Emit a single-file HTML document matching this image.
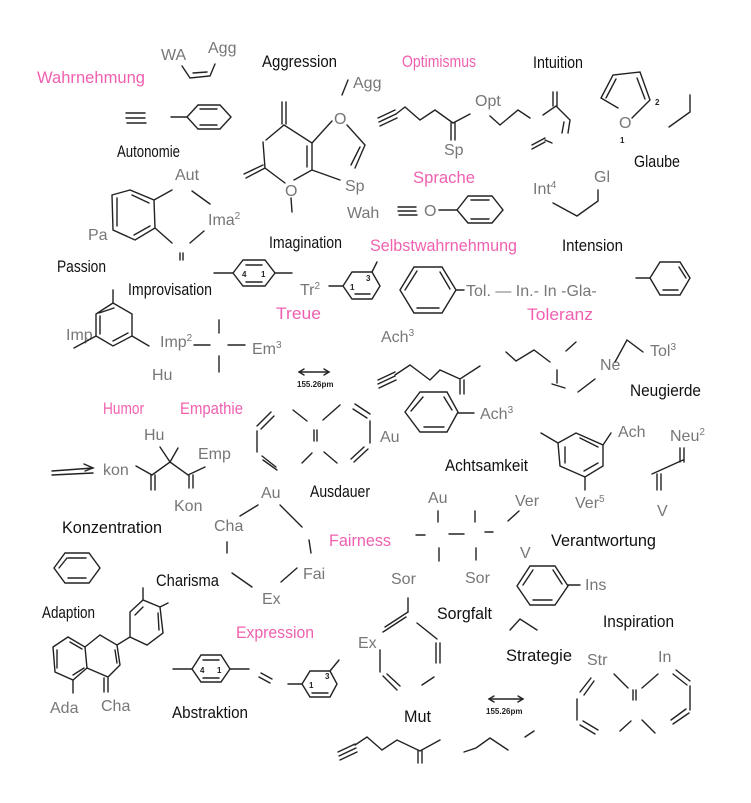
<!DOCTYPE html>
<html><head><meta charset="utf-8"><style>
html,body{margin:0;padding:0;background:#fff;}
svg{display:block}
.b{font-family:"Liberation Sans Narrow","Liberation Sans",sans-serif;font-size:17px;fill:#111}
.p{font-family:"Liberation Sans Narrow","Liberation Sans",sans-serif;font-size:17px;fill:#f060b0}
.g{font-family:"Liberation Sans Narrow","Liberation Sans",sans-serif;font-size:16px;fill:#777}
.m{font-family:"Liberation Sans",sans-serif;font-size:8px;font-weight:bold;fill:#222}
line,polyline,polygon{stroke:#222;stroke-width:1.4;fill:none;stroke-linecap:round}
</style></head><body>
<svg width="751" height="803" viewBox="0 0 751 803" xmlns="http://www.w3.org/2000/svg">
<!-- black labels -->
<text class="b" x="262" y="67" textLength="75" lengthAdjust="spacingAndGlyphs">Aggression</text>
<text class="b" x="533" y="68" textLength="50" lengthAdjust="spacingAndGlyphs">Intuition</text>
<text class="b" x="117" y="157" textLength="63" lengthAdjust="spacingAndGlyphs">Autonomie</text>
<text class="b" x="634" y="167" textLength="46" lengthAdjust="spacingAndGlyphs">Glaube</text>
<text class="b" x="269" y="248" textLength="73" lengthAdjust="spacingAndGlyphs">Imagination</text>
<text class="b" x="562" y="251" textLength="61" lengthAdjust="spacingAndGlyphs">Intension</text>
<text class="b" x="57" y="272" textLength="49" lengthAdjust="spacingAndGlyphs">Passion</text>
<text class="b" x="128" y="295" textLength="84" lengthAdjust="spacingAndGlyphs">Improvisation</text>
<text class="b" x="630" y="396" textLength="71" lengthAdjust="spacingAndGlyphs">Neugierde</text>
<text class="b" x="445" y="471" textLength="83" lengthAdjust="spacingAndGlyphs">Achtsamkeit</text>
<text class="b" x="310" y="497" textLength="60" lengthAdjust="spacingAndGlyphs">Ausdauer</text>
<text class="b" x="62" y="533" textLength="100" lengthAdjust="spacingAndGlyphs">Konzentration</text>
<text class="b" x="551" y="546" textLength="105" lengthAdjust="spacingAndGlyphs">Verantwortung</text>
<text class="b" x="156" y="586" textLength="63" lengthAdjust="spacingAndGlyphs">Charisma</text>
<text class="b" x="42" y="618" textLength="53" lengthAdjust="spacingAndGlyphs">Adaption</text>
<text class="b" x="437" y="619" textLength="55" lengthAdjust="spacingAndGlyphs">Sorgfalt</text>
<text class="b" x="603" y="627" textLength="71" lengthAdjust="spacingAndGlyphs">Inspiration</text>
<text class="b" x="506" y="661" textLength="66" lengthAdjust="spacingAndGlyphs">Strategie</text>
<text class="b" x="172" y="718" textLength="76" lengthAdjust="spacingAndGlyphs">Abstraktion</text>
<text class="b" x="404" y="722" textLength="27" lengthAdjust="spacingAndGlyphs">Mut</text>
<!-- pink labels -->
<text class="p" x="37" y="83" textLength="108" lengthAdjust="spacingAndGlyphs">Wahrnehmung</text>
<text class="p" x="402" y="67" textLength="74" lengthAdjust="spacingAndGlyphs">Optimismus</text>
<text class="p" x="413" y="183" textLength="62" lengthAdjust="spacingAndGlyphs">Sprache</text>
<text class="p" x="370" y="251" textLength="147" lengthAdjust="spacingAndGlyphs">Selbstwahrnehmung</text>
<text class="p" x="276" y="319" textLength="45" lengthAdjust="spacingAndGlyphs">Treue</text>
<text class="p" x="527" y="320" textLength="66" lengthAdjust="spacingAndGlyphs">Toleranz</text>
<text class="p" x="103" y="414" textLength="41" lengthAdjust="spacingAndGlyphs">Humor</text>
<text class="p" x="180" y="414" textLength="63" lengthAdjust="spacingAndGlyphs">Empathie</text>
<text class="p" x="329" y="546" textLength="62" lengthAdjust="spacingAndGlyphs">Fairness</text>
<text class="p" x="236" y="638" textLength="78" lengthAdjust="spacingAndGlyphs">Expression</text>
<!-- gray labels -->
<text class="g" x="161" y="60">WA</text><text class="g" x="208" y="53">Agg</text>
<text class="g" x="353" y="88">Agg</text><text class="g" x="345" y="191">Sp</text><text class="g" x="347" y="218">Wah</text>
<text class="g" x="475" y="106">Opt</text><text class="g" x="444" y="155">Sp</text>
<text class="g" x="594" y="182">Gl</text><text class="g" x="533" y="194">Int<tspan font-size="10" dy="-6">4</tspan></text>
<text class="g" x="175" y="180">Aut</text><text class="g" x="208" y="225">Ima<tspan font-size="10" dy="-6">2</tspan></text>
<text class="g" x="88" y="240">Pa</text>
<text class="g" x="300" y="295">Tr<tspan font-size="10" dy="-6">2</tspan></text>
<text class="g" x="466" y="296">Tol. — In.- In -Gla-</text>
<text class="g" x="66" y="340">Imp</text><text class="g" x="160" y="347">Imp<tspan font-size="10" dy="-6">2</tspan></text>
<text class="g" x="252" y="354">Em<tspan font-size="10" dy="-6">3</tspan></text><text class="g" x="152" y="380">Hu</text>
<text class="g" x="381" y="342">Ach<tspan font-size="10" dy="-6">3</tspan></text>
<text class="g" x="600" y="370">Ne</text><text class="g" x="650" y="356">Tol<tspan font-size="10" dy="-6">3</tspan></text>
<text class="g" x="144" y="440">Hu</text><text class="g" x="198" y="459">Emp</text>
<text class="g" x="103" y="475">kon</text><text class="g" x="174" y="511">Kon</text>
<text class="g" x="380" y="442">Au</text><text class="g" x="480" y="419">Ach<tspan font-size="10" dy="-6">3</tspan></text>
<text class="g" x="618" y="437">Ach</text><text class="g" x="670" y="441">Neu<tspan font-size="10" dy="-6">2</tspan></text>
<text class="g" x="575" y="508">Ver<tspan font-size="10" dy="-6">5</tspan></text><text class="g" x="657" y="516">V</text>
<text class="g" x="261" y="498">Au</text><text class="g" x="214" y="531">Cha</text>
<text class="g" x="303" y="579">Fai</text><text class="g" x="262" y="604">Ex</text>
<text class="g" x="428" y="503">Au</text><text class="g" x="515" y="506">Ver</text>
<text class="g" x="465" y="583">Sor</text><text class="g" x="520" y="558">V</text>
<text class="g" x="585" y="590">Ins</text><text class="g" x="391" y="584">Sor</text>
<text class="g" x="358" y="648">Ex</text>
<text class="g" x="50" y="713">Ada</text><text class="g" x="101" y="711">Cha</text>
<text class="g" x="587" y="665">Str</text><text class="g" x="658" y="662">In</text>
<!-- measurements -->
<line x1="299" y1="372" x2="329" y2="372"/><polyline points="304,369 299,372 304,375"/><polyline points="324,369 329,372 324,375"/>
<text class="m" x="297" y="387">155.26pm</text>
<line x1="489" y1="699" x2="523" y2="699"/><polyline points="494,696 489,699 494,702"/><polyline points="518,696 523,699 518,702"/>
<text class="m" x="486" y="714">155.26pm</text>
<!-- WA Agg -->
<polyline points="182,66 190,78 210,76 215,64"/><line x1="193" y1="73" x2="207" y2="72"/>
<!-- Autonomie -->
<line x1="126" y1="113" x2="145" y2="113"/><line x1="126" y1="118" x2="145" y2="118"/><line x1="127" y1="123" x2="146" y2="123"/>
<line x1="171" y1="117" x2="187" y2="117"/>
<polygon points="187,117 198,105 220,105 231,117 220,129 198,129"/><line x1="200" y1="109" x2="217" y2="109"/><line x1="200" y1="125" x2="217" y2="125"/>
<!-- Aggression ring -->
<line x1="282" y1="102" x2="282" y2="124"/><line x1="286" y1="102" x2="286" y2="124"/>
<polyline points="266,140 284,125 312,143 312,170 294,180"/><line x1="307" y1="146" x2="307" y2="167"/>
<polyline points="263,142 265,168 285,183"/><line x1="265" y1="168" x2="246" y2="178"/><line x1="263" y1="165" x2="244" y2="174"/>
<text class="g" x="285" y="196">O</text><line x1="291" y1="198" x2="292" y2="212"/>
<line x1="312" y1="143" x2="332" y2="121"/><text class="g" x="334" y="124">O</text>
<polyline points="347,125 365,145 355,168"/><line x1="360" y1="147" x2="351" y2="165"/>
<line x1="312" y1="170" x2="340" y2="180"/><line x1="342" y1="95" x2="348" y2="80"/>
<!-- Optimismus chain -->
<line x1="378" y1="118" x2="395" y2="110"/><line x1="379" y1="122" x2="396" y2="114"/><line x1="380" y1="126" x2="397" y2="118"/>
<polyline points="396,114 405,107 420,120 435,110 453,123 470,114"/><line x1="451" y1="123" x2="451" y2="140"/><line x1="455" y1="123" x2="455" y2="140"/>
<polyline points="490,116 500,125 518,110 530,118"/>
<polyline points="543,115 556,106 570,120 568,133"/><line x1="553" y1="106" x2="553" y2="92"/><line x1="557" y1="106" x2="557" y2="92"/><line x1="564" y1="122" x2="562" y2="133"/>
<line x1="532" y1="145" x2="545" y2="138"/><line x1="532" y1="149" x2="545" y2="142"/><line x1="545" y1="140" x2="552" y2="143"/>
<!-- Furan -->
<polyline points="618,108 601,98 613,75 640,72 650,100 632,118"/><line x1="606" y1="98" x2="616" y2="79"/><line x1="637" y1="78" x2="645" y2="99"/>
<text class="g" x="619" y="128">O</text><text class="m" x="620" y="143">1</text><text class="m" x="655" y="105">2</text>
<polyline points="669,127 690,112 690,95"/>
<!-- Gl chain -->
<polyline points="553,203 577,216 598,201 598,190"/>
<!-- Sprache -->
<line x1="398" y1="207" x2="416" y2="207"/><line x1="398" y1="211" x2="416" y2="211"/><line x1="399" y1="215" x2="417" y2="215"/>
<text class="g" x="424" y="216">O</text><line x1="439" y1="210" x2="457" y2="210"/>
<polygon points="457,210 468,196 492,196 503,210 492,223 468,223"/><line x1="471" y1="200" x2="489" y2="200"/><line x1="471" y1="219" x2="489" y2="219"/>
<!-- Passion -->
<polygon points="112,195 130,190 154,200 155,228 135,240 113,230"/><line x1="117" y1="198" x2="117" y2="226"/><line x1="132" y1="195" x2="149" y2="203"/><line x1="134" y1="235" x2="150" y2="226"/>
<line x1="154" y1="200" x2="172" y2="190"/><line x1="192" y1="191" x2="210" y2="204"/>
<line x1="155" y1="228" x2="172" y2="243"/><line x1="190" y1="243" x2="204" y2="231"/>
<line x1="180" y1="253" x2="180" y2="260"/><line x1="183" y1="253" x2="183" y2="260"/>
<!-- Imagination -->
<line x1="214" y1="273" x2="233" y2="273"/>
<polygon points="233,273 243,260 265,260 275,273 265,286 243,286"/><line x1="246" y1="265" x2="262" y2="265"/><line x1="246" y1="282" x2="262" y2="282"/>
<line x1="275" y1="273" x2="292" y2="273"/><text class="m" x="242" y="277">4</text><text class="m" x="261" y="277">1</text>
<line x1="329" y1="286" x2="343" y2="286"/>
<polygon points="343,286 352,272 372,272 380,286 372,299 352,299"/><line x1="355" y1="294" x2="370" y2="294"/><text class="m" x="350" y="290">1</text><text class="m" x="366" y="281">3</text>
<line x1="372" y1="272" x2="377" y2="262"/>
<!-- Selbst ring -->
<polygon points="400,290 414,267 442,267 456,290 442,313 414,313"/><line x1="405" y1="290" x2="417" y2="271"/><line x1="417" y1="308" x2="439" y2="308"/><line x1="440" y1="272" x2="450" y2="289"/>
<line x1="456" y1="290" x2="464" y2="290"/>
<line x1="636" y1="278" x2="650" y2="278"/>
<polygon points="650,278 660,262 680,262 690,278 680,295 660,295"/><line x1="663" y1="290" x2="678" y2="290"/><line x1="679" y1="267" x2="686" y2="278"/>
<!-- Improvisation -->
<polygon points="113,303 132,314 132,336 113,346 96,336 96,314"/><line x1="100" y1="316" x2="100" y2="334"/><line x1="114" y1="308" x2="99" y2="313"/><line x1="113" y1="341" x2="128" y2="333"/>
<line x1="113" y1="303" x2="113" y2="290"/><line x1="96" y1="336" x2="74" y2="348"/><line x1="132" y1="336" x2="149" y2="346"/>
<line x1="194" y1="345" x2="210" y2="345"/><line x1="219" y1="320" x2="219" y2="333"/><line x1="228" y1="345" x2="245" y2="345"/><line x1="219" y1="356" x2="219" y2="372"/>
<!-- Ach3 chain -->
<line x1="378" y1="380" x2="395" y2="372"/><line x1="378" y1="384" x2="395" y2="376"/><line x1="379" y1="388" x2="396" y2="380"/>
<polyline points="395,375 410,365 430,380 440,370 460,379 480,366"/><line x1="460" y1="380" x2="460" y2="394"/><line x1="464" y1="380" x2="464" y2="394"/>
<!-- Toleranz chain -->
<polyline points="506,352 516,361 534,350 550,362"/><line x1="566" y1="351" x2="576" y2="342"/>
<line x1="557" y1="370" x2="557" y2="383"/><line x1="552" y1="384" x2="565" y2="388"/><line x1="578" y1="392" x2="595" y2="379"/>
<polyline points="615,362 627,340 643,352"/>
<!-- Humor / kon -->
<line x1="52" y1="471" x2="93" y2="468"/><line x1="52" y1="475" x2="93" y2="473"/><polyline points="84,464 93,468 85,471"/>
<polyline points="136,466 152,475 170,462 188,475 205,467"/><line x1="160" y1="447" x2="170" y2="462"/><line x1="170" y1="462" x2="178" y2="448"/>
<line x1="151" y1="475" x2="151" y2="490"/><line x1="155" y1="475" x2="155" y2="490"/><line x1="189" y1="475" x2="189" y2="488"/><line x1="193" y1="475" x2="193" y2="488"/>
<!-- Ausdauer -->
<line x1="257" y1="426" x2="271" y2="412"/><line x1="261" y1="429" x2="274" y2="416"/>
<line x1="257" y1="431" x2="257" y2="452"/><line x1="262" y1="456" x2="276" y2="467"/><line x1="263" y1="460" x2="277" y2="470"/>
<line x1="293" y1="410" x2="307" y2="421"/><line x1="314" y1="430" x2="314" y2="441"/><line x1="317" y1="430" x2="317" y2="441"/>
<line x1="323" y1="420" x2="340" y2="405"/><line x1="355" y1="404" x2="370" y2="414"/><line x1="353" y1="409" x2="367" y2="418"/>
<line x1="370" y1="421" x2="370" y2="443"/><line x1="368" y1="449" x2="354" y2="462"/><line x1="364" y1="447" x2="351" y2="459"/>
<line x1="302" y1="463" x2="312" y2="453"/><line x1="324" y1="452" x2="337" y2="463"/>
<!-- Ach3 benzene -->
<polygon points="405,412 420,392 447,392 458,412 447,432 420,432"/><line x1="411" y1="411" x2="423" y2="397"/><line x1="424" y1="427" x2="444" y2="427"/><line x1="444" y1="397" x2="452" y2="410"/>
<line x1="458" y1="413" x2="474" y2="413"/>
<!-- Ach benzene -->
<polygon points="558,443 576,433 603,445 603,466 585,477 560,466"/><line x1="565" y1="447" x2="565" y2="463"/><line x1="580" y1="438" x2="598" y2="447"/><line x1="584" y1="471" x2="598" y2="463"/>
<line x1="558" y1="443" x2="541" y2="433"/><line x1="603" y1="445" x2="611" y2="433"/><line x1="585" y1="477" x2="585" y2="490"/>
<!-- Neu -->
<polyline points="652,474 683,460"/><line x1="680" y1="448" x2="680" y2="462"/><line x1="684" y1="448" x2="684" y2="462"/>
<line x1="657" y1="474" x2="657" y2="490"/><line x1="661" y1="474" x2="661" y2="490"/>
<!-- Charisma ring -->
<line x1="240" y1="516" x2="258" y2="505"/><line x1="280" y1="505" x2="302" y2="527"/>
<line x1="227" y1="542" x2="227" y2="553"/><line x1="309" y1="540" x2="311" y2="553"/>
<line x1="232" y1="573" x2="252" y2="587"/><line x1="281" y1="582" x2="297" y2="568"/>
<!-- Adaption benzene -->
<polygon points="54,568 65,553 89,553 100,568 89,583 65,583"/><line x1="68" y1="558" x2="86" y2="558"/><line x1="68" y1="578" x2="86" y2="578"/><line x1="59" y1="568" x2="67" y2="558"/>
<!-- Flavone -->
<polygon points="53,647 68,637 85,647 87,668 73,680 55,672"/><line x1="57" y1="650" x2="57" y2="668"/><line x1="70" y1="642" x2="82" y2="649"/><line x1="73" y1="675" x2="84" y2="668"/>
<polyline points="85,647 100,635 117,645 120,665 108,677 87,668"/><line x1="115" y1="650" x2="117" y2="663"/>
<line x1="104" y1="678" x2="104" y2="692"/><line x1="108" y1="678" x2="108" y2="692"/><line x1="73" y1="680" x2="73" y2="693"/>
<line x1="117" y1="645" x2="130" y2="637"/>
<polygon points="130,637 130,612 143,600 160,607 163,633 147,645"/><line x1="135" y1="615" x2="143" y2="607"/><line x1="158" y1="613" x2="159" y2="630"/>
<line x1="143" y1="600" x2="143" y2="588"/><line x1="160" y1="607" x2="168" y2="603"/>
<!-- Abstraktion -->
<line x1="173" y1="669" x2="192" y2="669"/>
<polygon points="192,669 201,655 221,655 230,669 221,682 201,682"/><line x1="203" y1="660" x2="219" y2="660"/><line x1="203" y1="678" x2="219" y2="678"/>
<line x1="230" y1="669" x2="249" y2="669"/><text class="m" x="200" y="673">4</text><text class="m" x="217" y="673">1</text>
<line x1="261" y1="673" x2="272" y2="679"/><line x1="259" y1="677" x2="270" y2="683"/>
<line x1="288" y1="684" x2="302" y2="684"/>
<polygon points="302,684 310,671 330,671 337,684 330,697 310,697"/><line x1="312" y1="693" x2="328" y2="693"/><text class="m" x="309" y="688">1</text><text class="m" x="325" y="679">3</text>
<line x1="330" y1="671" x2="339" y2="660"/>
<!-- Sorgfalt ring -->
<line x1="408" y1="598" x2="408" y2="612"/><line x1="408" y1="612" x2="385" y2="627"/><line x1="406" y1="617" x2="383" y2="632"/>
<line x1="417" y1="623" x2="437" y2="639"/><line x1="436" y1="643" x2="436" y2="663"/><line x1="440" y1="643" x2="440" y2="663"/>
<line x1="380" y1="650" x2="380" y2="672"/><line x1="383" y1="676" x2="397" y2="690"/><line x1="387" y1="674" x2="400" y2="686"/>
<line x1="422" y1="685" x2="434" y2="677"/>
<!-- Ver cross -->
<line x1="416" y1="535" x2="425" y2="535"/><line x1="449" y1="534" x2="464" y2="534"/><line x1="485" y1="532" x2="493" y2="532"/>
<line x1="438" y1="511" x2="438" y2="522"/><line x1="475" y1="511" x2="475" y2="522"/><line x1="439" y1="548" x2="439" y2="561"/><line x1="476" y1="548" x2="476" y2="560"/>
<line x1="508" y1="521" x2="519" y2="511"/>
<!-- Ins benzene -->
<polygon points="517,586 530,566 555,566 568,586 555,605 530,605"/><line x1="523" y1="585" x2="533" y2="570"/><line x1="533" y1="600" x2="552" y2="600"/><line x1="553" y1="570" x2="562" y2="584"/>
<line x1="568" y1="585" x2="580" y2="585"/>
<!-- Strategie -->
<polyline points="510,630 520,619 537,630"/>
<!-- Inspiration -->
<line x1="580" y1="692" x2="591" y2="678"/><line x1="584" y1="695" x2="594" y2="681"/>
<line x1="577" y1="699" x2="577" y2="720"/><line x1="580" y1="725" x2="595" y2="734"/><line x1="583" y1="721" x2="598" y2="730"/>
<line x1="614" y1="674" x2="628" y2="688"/><line x1="633" y1="690" x2="633" y2="700"/><line x1="636" y1="690" x2="636" y2="700"/>
<line x1="642" y1="688" x2="658" y2="674"/><line x1="676" y1="670" x2="690" y2="681"/><line x1="673" y1="674" x2="687" y2="685"/>
<line x1="690" y1="686" x2="690" y2="710"/><line x1="689" y1="713" x2="673" y2="724"/><line x1="686" y1="709" x2="671" y2="720"/>
<line x1="620" y1="731" x2="631" y2="721"/><line x1="642" y1="720" x2="655" y2="733"/>
<!-- Mut chains -->
<line x1="338" y1="752" x2="355" y2="744"/><line x1="339" y1="756" x2="356" y2="748"/><line x1="340" y1="760" x2="357" y2="752"/>
<polyline points="355,745 367,737 382,750 397,740 420,751 440,740"/><line x1="418" y1="751" x2="418" y2="763"/><line x1="422" y1="751" x2="422" y2="763"/>
<polyline points="464,752 476,748 490,738 508,750"/><line x1="525" y1="737" x2="534" y2="731"/>
</svg>
</body></html>
